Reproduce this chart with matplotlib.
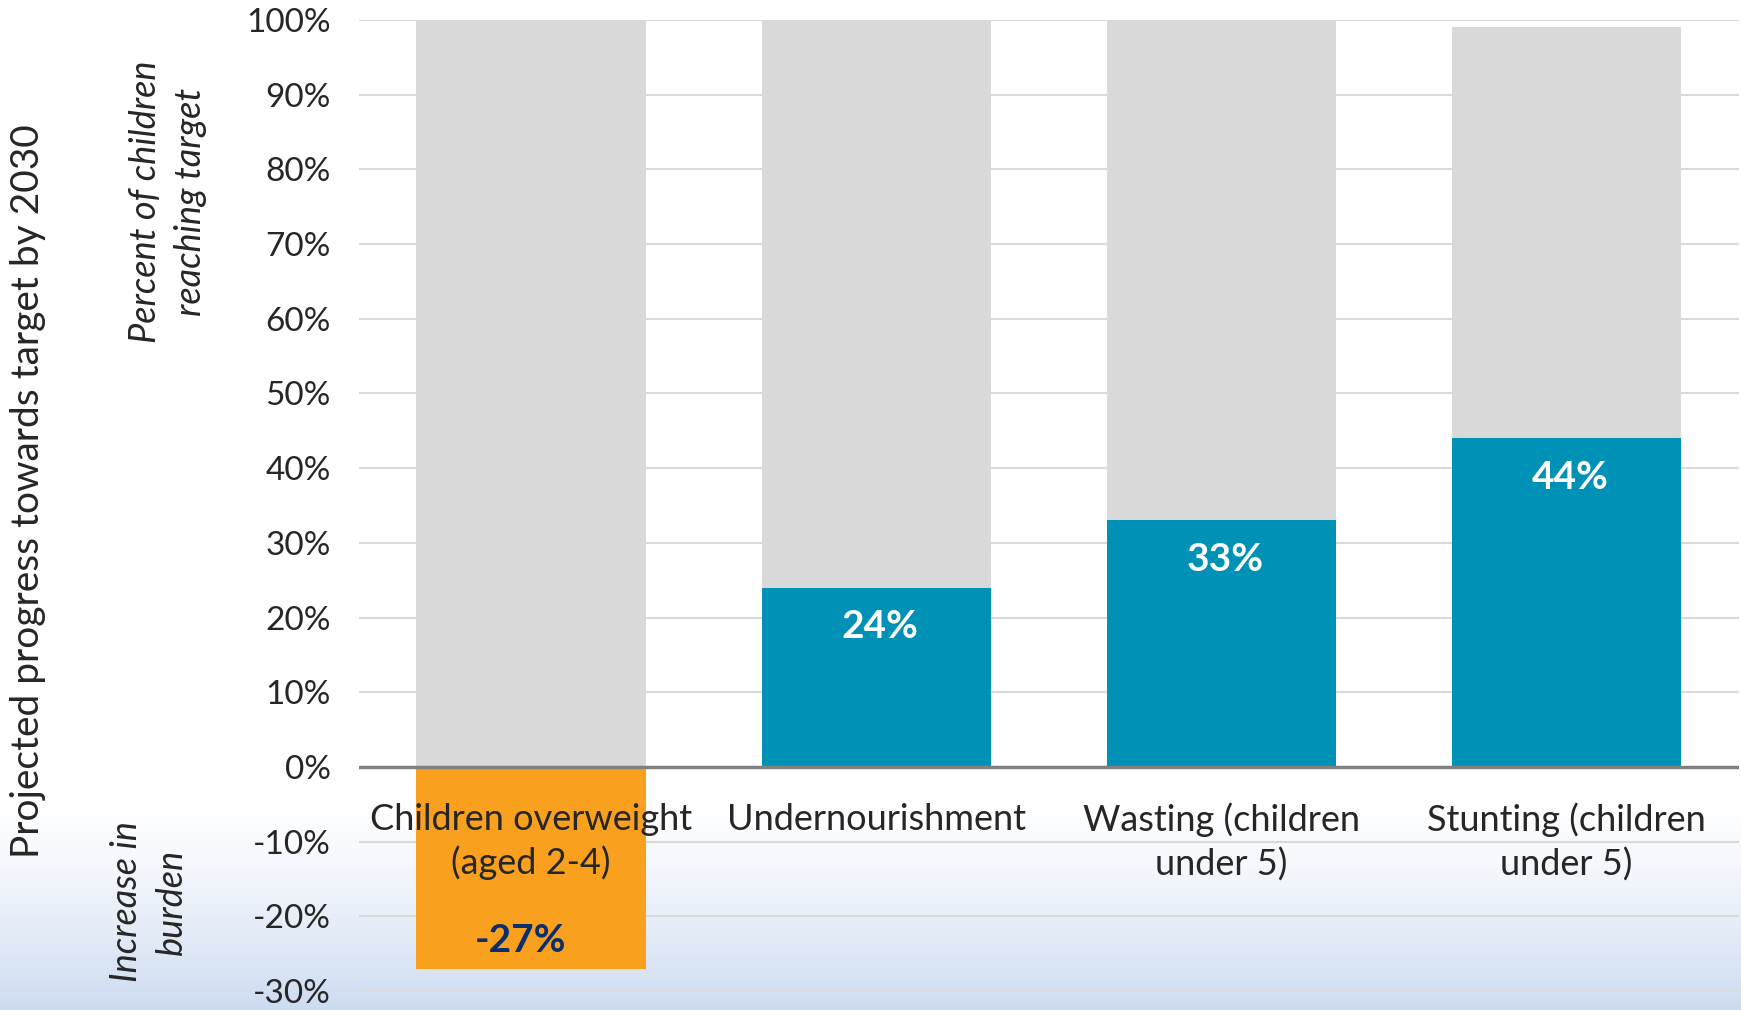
import matplotlib as mpl
import matplotlib.pyplot as plt
import numpy as np

plt.rcParams['font.family'] = ['Lato', 'DejaVu Sans']

categories = ['Children overweight\n(aged 2-4)', 'Undernourishment',
              'Wasting (children\nunder 5)', 'Stunting (children\nunder 5)']
progress = [-27, 24, 33, 44]
backdrop = [100, 100, 100, 99]
yticks = list(range(-30, 101, 10))

blue = '#0091B6'
orange = '#F9A11F'
grey = '#D9D9D9'

fig = plt.figure(figsize=(17.41, 10.10), dpi=100)

# light blue fade at the bottom of the figure
bg = fig.add_axes([0, 0, 1, 1], zorder=0)
n = 1010
t = np.zeros(n)
start = 800
t[start:] = np.linspace(0, 1, n - start) ** 1.3
top_c = np.array([1.0, 1.0, 1.0])
bot_c = np.array([205, 219, 241]) / 255
img = top_c[None, :] * (1 - t[:, None]) + bot_c[None, :] * t[:, None]
bg.imshow(img[:, None, :], aspect='auto', extent=[0, 1, 0, 1])
bg.axis('off')

ax = fig.add_axes([0.206, 0.0188, 0.7929, 0.9614], zorder=1)
ax.patch.set_alpha(0)
x = np.arange(len(categories))
w = 0.665

ax.bar(x, backdrop, width=w, color=grey, zorder=2)
cols = [orange if v < 0 else blue for v in progress]
ax.bar(x, progress, width=w, color=cols, zorder=3)

for xi, v in zip(x, progress):
    if v < 0:
        ax.text(xi - 0.03, v + 3.8, f'{v}%', ha='center', va='center', fontsize=28,
                fontweight='bold', color='#0B2F6B', zorder=5)
    else:
        ax.text(xi + 0.01, v - 5.2, f'{v}%', ha='center', va='center', fontsize=28,
                fontweight='bold', color='white', zorder=5)

for xi, c in zip(x, categories):
    ax.text(xi, -4.8, c, ha='center', va='top', fontsize=26, color='#262626',
            linespacing=1.35, zorder=6)

ax.axhline(0, color='#808080', lw=2.5, zorder=4)
ax.set_xlim(-0.5, 3.5)
ax.set_ylim(-30, 100)
ax.set_yticks(yticks)
ax.set_yticklabels([f'{v}%' for v in yticks], fontsize=24, color='#262626')
ax.set_xticks([])
ax.tick_params(axis='y', length=0, pad=20)
ax.yaxis.grid(True, color='#D9D9D9', lw=1.5, zorder=0)
ax.set_axisbelow(True)
for s in ax.spines.values():
    s.set_visible(False)

fig.text(0.016, 0.514, 'Projected progress towards target by 2030', rotation=90,
         ha='center', va='center', fontsize=28, color='#262626')
fig.text(0.0965, 0.80, 'Percent of children\nreaching target', rotation=90,
         ha='center', va='center', fontsize=26, style='italic', color='#262626',
         linespacing=1.45)
fig.text(0.0855, 0.107, 'Increase in\nburden', rotation=90,
         ha='center', va='center', fontsize=26, style='italic', color='#262626',
         linespacing=1.45)

plt.savefig('out.png', dpi=100)
